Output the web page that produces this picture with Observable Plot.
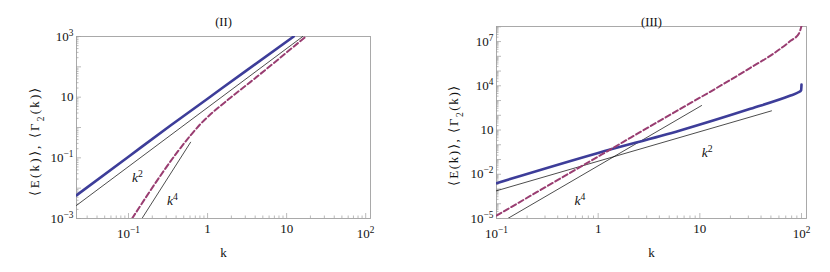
<!DOCTYPE html>
<html><head><meta charset="utf-8">
<script src="https://cdn.jsdelivr.net/npm/d3@7"></script>
<script src="https://cdn.jsdelivr.net/npm/@observablehq/plot@0.6"></script>
<style>
body{margin:0;background:#fff;}
#wrap{position:relative;width:830px;height:272px;overflow:hidden;background:#fff;}
#wrap svg{position:absolute;top:0;}
#wrap svg, #wrap svg text, #wrap svg g {font-family:'Liberation Serif','Times New Roman',serif !important; font-variant:normal !important;}
#wrap svg text {fill:#111;}
</style></head><body><div id="wrap"></div>
<script>
// ---------- Panel (II) data ----------
const kE2 = [0.022, 0.1, 0.34, 1, 3, 12.3];
const E2  = [0.0058, 0.109, 1.16, 8.9, 71, 1000];
const kG2 = [0.111, 0.61, 0.815, 1.09, 1.46, 1.95, 3.5, 17.5];
const G2  = [0.001, 0.55, 1.31, 2.72, 5.2, 9.6, 32, 1000];
const kRef2a = [0.022, 16];      // k^2 guide
const ref2a  = [0.0027, 1000];
const kRef2b = [0.148, 0.61];    // k^4 guide
const ref2b  = [0.001, 0.327];
const noteK2 = [0.13, 0.36];
const noteV2 = [0.022, 0.0039];
const noteT2 = ["k^{2}", "k^{4}"];
const xTicks2 = [0.1, 1, 10, 100];
const xLabels2 = ["10^{−1}", "1", "10", "10^{2}"];
const yTicks2 = [1e-3, 1e-1, 10, 1e3];
const yLabels2 = ["10^{−3}", "10^{−1}", "10", "10^{3}"];

// ---------- Panel (III) data ----------
const kE3 = [0.1, 1, 6.4, 31.4, 78, 93.3, 99.2, 100];
const E3  = [0.0025, 0.28, 9.3, 275, 2190, 3630, 5000, 12000];
const kG3 = [0.1, 4.06, 25.1, 31.4, 53.5, 78, 94.4, 100];
const G3  = [1.58e-5, 43.7, 6.46e4, 1.66e5, 1.58e6, 1.12e7, 3.55e7, 1.12e8];
const kRef3a = [0.1, 50.7];      // k^2 guide
const ref3a  = [7.6e-4, 200];
const kRef3b = [0.129, 10.4];    // k^4 guide
const ref3b  = [1e-5, 457];
const noteK3 = [11.8, 0.66];
const noteV3 = [0.3, 1.7e-4];
const noteT3 = ["k^{2}", "k^{4}"];
const xTicks3 = [0.1, 1, 10, 100];
const xLabels3 = ["10^{−1}", "1", "10", "10^{2}"];
const yTicks3 = [1e-5, 1e-2, 10, 1e4, 1e7];
const yLabels3 = ["10^{−5}", "10^{−2}", "10", "10^{4}", "10^{7}"];

const yTitle = "⟨E(k)⟩, ⟨Γ_{2}(k)⟩";

function logMinor(lo, hi) {
  const out = [];
  for (let e = Math.floor(Math.log10(lo)); e <= Math.ceil(Math.log10(hi)); e++)
    for (let m = 2; m <= 9; m++) { const v = m * Math.pow(10, e); if (v >= lo && v <= hi) out.push(v); }
  return out;
}
function logDecades(lo, hi) {
  const out = [];
  for (let e = Math.ceil(Math.log10(lo) - 1e-9); e <= Math.floor(Math.log10(hi) + 1e-9); e++) out.push(Math.pow(10, e));
  return out;
}
function table(ks, vs) { return ks.map((k, i) => ({k, v: vs[i]})); }

function richText(svg) {
  svg.querySelectorAll("text").forEach(t => {
    const s = t.textContent;
    if (!/[\^_]\{/.test(s)) return;
    t.dataset.raw = s;
    while (t.firstChild) t.removeChild(t.firstChild);
    const re = /([\^_])\{([^}]*)\}/g; let last = 0, m;
    const add = (txt, kind) => {
      if (!txt) return;
      const ts = document.createElementNS("http://www.w3.org/2000/svg", "tspan");
      ts.textContent = txt;
      if (kind) {
        ts.setAttribute("baseline-shift", kind === "^" ? "super" : "sub");
        ts.setAttribute("font-size", "72%");
        ts.setAttribute("font-style", "normal");
      }
      t.appendChild(ts);
    };
    while ((m = re.exec(s))) { add(s.slice(last, m.index)); add(m[2], m[1]); last = re.lastIndex; }
    add(s.slice(last));
  });
}

function panel(c) {
  const H = 272, fw = c.width - c.mL - c.mR, fh = H - c.mT - c.mB;
  const xLab = new Map(c.xT.map((d, i) => [d, c.xL[i]]));
  const yLab = new Map(c.yT.map((d, i) => [d, c.yL[i]]));
  const xPlain = c.xT.filter(d => !xLab.get(d).includes("^"));
  const xSup = c.xT.filter(d => xLab.get(d).includes("^"));
  const tickCol = "#a8a8a8";
  const svg = Plot.plot({
    width: c.width, height: H,
    marginLeft: c.mL, marginRight: c.mR, marginTop: c.mT, marginBottom: c.mB,
    style: {fontFamily: "'Liberation Serif','Times New Roman',serif", fontSize: "12.5px", color: "#111", background: "transparent", overflow: "visible"},
    x: {type: "log", domain: c.xDom},
    y: {type: "log", domain: c.yDom},
    marks: [
      Plot.tickX(logMinor(...c.xDom), {x: d => d, insetTop: fh - 2.5, stroke: tickCol, strokeWidth: 0.8}),
      Plot.tickX(logDecades(...c.xDom), {x: d => d, insetTop: fh - 5, stroke: tickCol, strokeWidth: 0.8}),
      Plot.tickY(logMinor(...c.yDom), {y: d => d, insetRight: fw - 2.5, stroke: tickCol, strokeWidth: 0.8}),
      Plot.tickY(logDecades(...c.yDom), {y: d => d, insetRight: fw - 5, stroke: tickCol, strokeWidth: 0.8}),
      Plot.frame({stroke: "#a0a0a0", strokeWidth: 0.9}),
      Plot.axisX(xPlain, {tickSize: 0, tickPadding: 5, tickFormat: d => xLab.get(d), label: null, fontSize: 13}),
      Plot.axisX(xSup, {tickSize: 0, tickPadding: 10, tickFormat: d => xLab.get(d), label: "k", labelAnchor: "center", labelArrow: false, labelOffset: 38, fontSize: 13}),
      Plot.axisY(c.yT, {tickSize: 0, tickPadding: 3, tickFormat: d => yLab.get(d), label: yTitle, labelAnchor: "center", labelArrow: false, labelOffset: c.yLO, fontSize: 13}),
      Plot.line(table(c.kR1, c.r1), {x: "k", y: "v", stroke: "#000", strokeWidth: 0.7, clip: true}),
      Plot.line(table(c.kR2, c.r2), {x: "k", y: "v", stroke: "#000", strokeWidth: 0.7, clip: true}),
      Plot.line(table(c.kE, c.E), {x: "k", y: "v", stroke: "#3d3d99", strokeWidth: 2.6, curve: "monotone-x", clip: true}),
      Plot.line(table(c.kG, c.G), {x: "k", y: "v", stroke: "#993d71", strokeWidth: 2, strokeDasharray: "5.5,3", curve: "monotone-x", clip: true}),
      Plot.text(c.nT, {x: (d, i) => c.nK[i], y: (d, i) => c.nV[i], text: d => d, fontStyle: "italic", fontSize: 13.5}),
      Plot.text([c.title], {frameAnchor: "top", dy: c.titleDy, fontSize: 12.5})
    ]
  });
  richText(svg);
  // stretch the y title to the reference's long, widely spaced rendering
  svg.querySelectorAll("text").forEach(t => {
    if (t.dataset.raw === yTitle) {
      t.setAttribute("textLength", c.yLen);
      t.setAttribute("lengthAdjust", "spacing");
      t.setAttribute("x", -c.yShift);
    }
  });
  svg.style.left = c.left + "px";
  return svg;
}

const wrap = document.getElementById("wrap");
wrap.appendChild(panel({
  left: 0, width: 400, mL: 76, mR: 30, mT: 36, mB: 54,
  xDom: [0.022, 115], yDom: [1e-3, 1e3],
  xT: xTicks2, xL: xLabels2, yT: yTicks2, yL: yLabels2, yLO: 46.5, yLen: 108, yShift: 14,
  kE: kE2, E: E2, kG: kG2, G: G2, kR1: kRef2a, r1: ref2a, kR2: kRef2b, r2: ref2b,
  nK: noteK2, nV: noteV2, nT: noteT2, title: "(II)", titleDy: -19
}));
wrap.appendChild(panel({
  left: 410, width: 420, mL: 86, mR: 24, mT: 26, mB: 54,
  xDom: [0.1, 112], yDom: [1e-5, 1.05e8],
  xT: xTicks3, xL: xLabels3, yT: yTicks3, yL: yLabels3, yLO: 47.5, yLen: 100, yShift: 13,
  kE: kE3, E: E3, kG: kG3, G: G3, kR1: kRef3a, r1: ref3a, kR2: kRef3b, r2: ref3b,
  nK: noteK3, nV: noteV3, nT: noteT3, title: "(III)", titleDy: -9
}));
</script>
</body></html>
